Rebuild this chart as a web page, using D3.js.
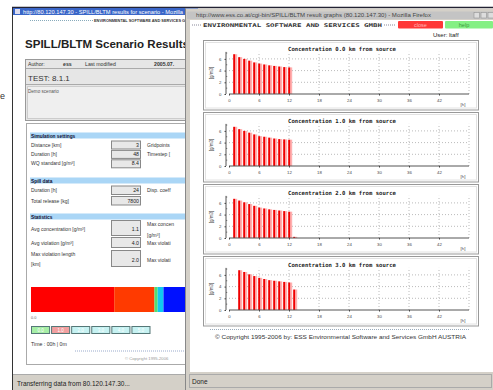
<!DOCTYPE html>
<html><head><meta charset="utf-8">
<script src="https://cdn.jsdelivr.net/npm/d3@7"></script>
<style>body{margin:0;background:#fff;overflow:hidden}svg{display:block;font-family:"Liberation Sans",Arial,sans-serif}</style>
</head><body><svg id="c" width="493" height="390"></svg>
<script>
// ---------- data ----------
const panelDistances = ["0.0", "1.0", "2.0", "3.0"];
const panelStartHour = [1, 1, 1, 2];
const conc00 = [6.8, 6.3, 6.0, 5.7, 5.4, 5.2, 5.05, 4.9, 4.8, 4.7, 4.6, 4.55];
const conc10 = [6.7, 6.3, 6.0, 5.7, 5.4, 5.1, 5.0, 4.85, 4.7, 4.6, 4.55, 4.5];
const conc20 = [6.7, 6.4, 6.1, 5.8, 5.5, 5.2, 5.05, 4.9, 4.8, 4.7, 4.6, 4.5, 0.2];
const conc30 = [6.8, 6.5, 6.1, 5.8, 5.5, 5.3, 5.1, 5.0, 4.9, 4.8, 4.7, 3.5];
const xTicks = [0, 6, 12, 18, 24, 30, 36, 42];
const yTicks = [0, 2, 4, 6];
const xMax = 48, yMax = 7.2;

const simLabels = ["Distance [km]", "Duration [h]", "WQ standard [g/m³]"];
const simValues = ["3", "48", "8.4"];
const simRight = ["Gridpoints", "Timestep [", ""];
const spillLabels = ["Duration [h]", "Total release [kg]"];
const spillValues = ["24", "7800"];
const spillRight = ["Disp. coeff", ""];
const statValues = ["1.1", "4.0", "2.0"];
const riverKm = 3;
const classKm = [0, 1.57, 2.33, 2.39, 2.5, 3.0];
const classNames = ["above", "high", "mid", "low", "below"];
const timeButtons = ["0.0", "1.0", "2.0", "3.0", "4.0", "5.0"];

const svg = d3.select("#c");
function T(g, x, y, s, size, o = {}) {
  const t = g.append("text").attr("x", x).attr("y", y).text(s)
    .attr("font-size", size).attr("fill", o.fill || "#222");
  if (o.bold) t.attr("font-weight", "bold");
  if (o.anchor) t.attr("text-anchor", o.anchor);
  if (o.family) t.attr("font-family", o.family);
  if (o.len) t.attr("textLength", o.len).attr("lengthAdjust", "spacingAndGlyphs");
  return t;
}

// ---------- background letter ----------
T(svg, 0, 99, "e", 9, {fill: "#333"});

// ---------- LEFT WINDOW ----------
const L = svg.append("g");
L.append("rect").attr("x", 12).attr("y", 7).attr("width", 190).attr("height", 383).attr("fill", "#fff");
L.append("line").attr("x1", 12.5).attr("x2", 12.5).attr("y1", 7).attr("y2", 390).attr("stroke", "#333");
L.append("line").attr("x1", 12).attr("x2", 493).attr("y1", 7.5).attr("y2", 7.5).attr("stroke", "#223").attr("stroke-width", 1.5);
L.append("rect").attr("x", 13).attr("y", 8).attr("width", 185).attr("height", 7).attr("fill", "#3a66c8");
L.append("rect").attr("x", 15).attr("y", 9).attr("width", 5).attr("height", 5).attr("fill", "#dde");
T(L, 23, 13.5, "http://80.120.147.30 - SPILL/BLTM results for scenario - Mozilla", 4.5, {fill: "#fff", len: 160});
L.append("line").attr("x1", 30).attr("x2", 93).attr("y1", 20.5).attr("y2", 20.5).attr("stroke", "#8ab").attr("stroke-dasharray", "1,1");
T(L, 94, 22, "ENVIRONMENTAL SOFTWARE AND SERVICES GMBH", 3.6, {bold: true, fill: "#333", len: 100});
T(L, 25, 47.5, "SPILL/BLTM Scenario Results", 11.5, {bold: true, fill: "#222", len: 164});

// info box
L.append("rect").attr("x", 25.5).attr("y", 59.5).attr("width", 170).attr("height", 61).attr("fill", "#e6e6e6").attr("stroke", "#999");
L.append("line").attr("x1", 26).attr("x2", 196).attr("y1", 68.5).attr("y2", 68.5).attr("stroke", "#aaa");
L.append("line").attr("x1", 26).attr("x2", 196).attr("y1", 84.5).attr("y2", 84.5).attr("stroke", "#aaa");
L.append("rect").attr("x", 27.5).attr("y", 86.5).attr("width", 168).attr("height", 32).attr("fill", "#efefef").attr("stroke", "#ccc");
T(L, 28, 66, "Author:", 5.2, {fill: "#333"});
T(L, 63, 66, "ess", 5.2, {fill: "#333", bold: true});
T(L, 85, 66, "Last modified", 5.2, {fill: "#333"});
T(L, 154, 66, "2005.07.", 5.2, {fill: "#333", bold: true});
T(L, 28, 81, "TEST:  8.1.1", 8, {fill: "#333"});
T(L, 28, 93, "Demo scenario", 4.6, {fill: "#555"});

// content box
L.append("rect").attr("x", 26.5).attr("y", 123.5).attr("width", 170).attr("height", 241).attr("fill", "#fff").attr("stroke", "#aaa");

function header(y, s) {
  L.append("rect").attr("x", 30).attr("y", y).attr("width", 165).attr("height", 6).attr("fill", "#aad6f6");
  T(L, 31, y + 5, s, 4.8, {bold: true, fill: "#113"});
}
function valBox(y, h, v, vy) {
  L.append("rect").attr("x", 111.5).attr("y", y + 0.5).attr("width", 29).attr("height", h).attr("fill", "#e8e8e8").attr("stroke", "#888");
  T(L, 139, vy, v, 5.2, {anchor: "end", fill: "#222"});
}
header(132.5, "Simulation settings");
simLabels.forEach((s, i) => {
  const by = 146.5 + i * 9.4;
  valBox(by - 6, 8, simValues[i], by);
  T(L, 31, by, s, 5, {fill: "#333"});
  if (simRight[i]) T(L, 147, by, simRight[i], 5, {fill: "#333"});
});
header(177.5, "Spill data");
spillLabels.forEach((s, i) => {
  const by = 192 + i * 10.5;
  valBox(by - 6.5, 8.5, spillValues[i], by);
  T(L, 31, by, s, 5, {fill: "#333"});
  if (spillRight[i]) T(L, 147, by, spillRight[i], 5, {fill: "#333"});
});
header(213.5, "Statistics");
valBox(220, 15, statValues[0], 230.5);
T(L, 31, 230.5, "Avg concentration [g/m³]", 5, {fill: "#333"});
T(L, 147, 226, "Max concen", 5, {fill: "#333"});
T(L, 147, 237, "[g/m³]", 5, {fill: "#333"});
valBox(237, 10, statValues[1], 245);
T(L, 31, 245, "Avg violation [g/m³]", 5, {fill: "#333"});
T(L, 147, 245, "Max violati", 5, {fill: "#333"});
valBox(250, 16, statValues[2], 262);
T(L, 31, 255.5, "Max violation length", 5, {fill: "#333"});
T(L, 31, 266, "[km]", 5, {fill: "#333"});
T(L, 147, 262, "Max violati", 5, {fill: "#333"});

// river colour bar
const kx = d3.scaleLinear().domain([0, riverKm]).range([31, 190]);
const classColor = d3.scaleOrdinal().domain(classNames).range(["#ff0000", "#ff3a00", "#50e070", "#10c8f0", "#0010ff"]);
L.selectAll("rect.seg").data(classNames).join("rect").attr("class", "seg")
  .attr("x", (d, i) => kx(classKm[i])).attr("width", (d, i) => kx(classKm[i + 1]) - kx(classKm[i]))
  .attr("y", 287).attr("height", 25).attr("fill", d => classColor(d));
T(L, 31, 318.5, "0.0", 3.8, {fill: "#666"});
const btnColors = ["#a6eea6", "#f2a0a0", "#c6f2f2", "#c6f2f2", "#c6f2f2", "#c6f2f2"];
const bx = d3.scaleBand().domain(timeButtons).range([31.5, 150]).paddingInner(0.1);
timeButtons.forEach((b, i) => {
  L.append("rect").attr("x", bx(b)).attr("y", 326.5).attr("width", bx.bandwidth()).attr("height", 7)
    .attr("fill", btnColors[i]).attr("stroke", "#577");
  T(L, bx(b) + bx.bandwidth() / 2, 332, b, 4.5, {anchor: "middle", fill: "#fff"});
});
T(L, 31, 345.5, "Time : 00h | 0m", 5.2, {fill: "#333"});
L.append("line").attr("x1", 75).attr("x2", 192).attr("y1", 351).attr("y2", 351).attr("stroke", "#9ac").attr("stroke-dasharray", "1,1");
T(L, 125, 360, "© Copyright 1995-2006", 4.2, {fill: "#999"});
L.append("rect").attr("x", 13).attr("y", 374).attr("width", 180).attr("height", 16).attr("fill", "#d4d0c8");
L.append("line").attr("x1", 13).attr("x2", 193).attr("y1", 374.5).attr("y2", 374.5).attr("stroke", "#aaa");
T(L, 17, 386, "Transferring data from 80.120.147.30...", 6.5, {fill: "#222"});

// ---------- RIGHT WINDOW ----------
const R = svg.append("g");
R.append("rect").attr("x", 185).attr("y", 8.5).attr("width", 308).attr("height", 382).attr("fill", "#d4d0c8");
R.append("line").attr("x1", 185.5).attr("x2", 185.5).attr("y1", 8).attr("y2", 390).attr("stroke", "#888");
R.append("rect").attr("x", 187).attr("y", 11.5).attr("width", 306).attr("height", 7.5).attr("fill", "#c4c4c4");
T(R, 196, 17.3, "http://www.ess.co.at/cgi-bin/SPILL/BLTM result graphs (80.120.147.30) - Mozilla Firefox", 4.5, {fill: "#444", len: 235});
[474, 481, 488].forEach(x => R.append("rect").attr("x", x).attr("y", 12.5).attr("width", 5.5).attr("height", 5.5).attr("fill", "#ddd").attr("stroke", "#888").attr("stroke-width", 0.5));
R.append("rect").attr("x", 190).attr("y", 20).attr("width", 303).attr("height", 352).attr("fill", "#fff");
R.append("line").attr("x1", 192).attr("x2", 201).attr("y1", 25).attr("y2", 25).attr("stroke", "#889").attr("stroke-dasharray", "1,1");
T(R, 203, 27, "ENVIRONMENTAL SOFTWARE AND SERVICES GMBH", 5, {bold: true, fill: "#333", len: 179, family: "DejaVu Sans Mono"});
R.append("line").attr("x1", 384).attr("x2", 396).attr("y1", 25).attr("y2", 25).attr("stroke", "#889").attr("stroke-dasharray", "1,1");
R.append("rect").attr("x", 398).attr("y", 21).attr("width", 45).attr("height", 7.5).attr("fill", "#ff3838").attr("rx", 1);
T(R, 420.5, 27, "close", 5.5, {anchor: "middle", fill: "#ffb8b8"});
R.append("rect").attr("x", 445).attr("y", 21).attr("width", 48).attr("height", 7.5).attr("fill", "#84f084").attr("rx", 1);
T(R, 464, 27, "help", 5.5, {anchor: "middle", fill: "#3a9a3a"});
T(R, 433, 37, "User: ltaff", 6, {fill: "#222"});

// panels
const panelData = [conc00, conc10, conc20, conc30];
const x = d3.scaleLinear().domain([0, xMax]).range([229, 469]);
panelData.forEach((vals, p) => {
  const top = 40 + p * 72;
  const g = R.append("g");
  g.append("rect").attr("x", 203.5).attr("y", top + 0.5).attr("width", 275).attr("height", 69.5)
    .attr("fill", "#fff").attr("stroke", "#999");
  g.append("rect").attr("x", 205.5).attr("y", top + 2.5).attr("width", 271).attr("height", 65.5)
    .attr("fill", "none").attr("stroke", "#e2e2e2");
  const zero = top + 54;
  const y = d3.scaleLinear().domain([0, yMax]).range([zero, zero - yMax * 5.85]);
  T(g, 342, top + 10.5, `Concentration ${panelDistances[p]} km from source`, 5.6,
    {anchor: "middle", bold: true, family: "DejaVu Sans Mono", fill: "#222"});
  // grid
  g.selectAll("line.gy").data(yTicks.slice(1)).join("line")
    .attr("x1", x(0)).attr("x2", x(xMax)).attr("y1", d => y(d)).attr("y2", d => y(d))
    .attr("stroke", "#bbb").attr("stroke-dasharray", "1,2");
  g.selectAll("line.gx").data(xTicks.slice(1).concat([xMax])).join("line")
    .attr("x1", d => x(d)).attr("x2", d => x(d)).attr("y1", y(0)).attr("y2", y(yMax))
    .attr("stroke", "#bbb").attr("stroke-dasharray", "1,2");
  // bars
  const bars = vals.map((v, i) => ({h: panelStartHour[p] + i, v}));
  g.selectAll("rect.pk").data(bars).join("rect")
    .attr("x", d => x(d.h) + 1).attr("width", 2.2)
    .attr("y", d => y(d.v)).attr("height", d => y(0) - y(d.v)).attr("fill", "#ffb0b0");
  g.selectAll("rect.rd").data(bars).join("rect")
    .attr("x", d => x(d.h) - 0.8).attr("width", 1.9)
    .attr("y", d => y(d.v)).attr("height", d => y(0) - y(d.v)).attr("fill", "#f00000");
  // axes
  const ax = g.append("g").attr("transform", `translate(0,${y(0)})`)
    .call(d3.axisBottom(x).tickValues(xTicks).tickSize(1.5).tickPadding(3.5));
  ax.select(".domain").attr("stroke", "#555").attr("d", `M${x(0)},0H${x(xMax)}`);
  ax.selectAll("text").attr("font-size", 4.3).attr("fill", "#444");
  ax.selectAll("line").attr("stroke", "#444");
  const ay = g.append("g").attr("transform", `translate(${x(0) - 3},0)`)
    .call(d3.axisLeft(y).tickValues(yTicks).tickSize(1.5).tickPadding(3));
  ay.select(".domain").attr("stroke", "#555").attr("d", `M0,${y(0)}V${y(yMax)}`);
  ay.selectAll("text").attr("font-size", 4.3).attr("fill", "#444");
  ay.selectAll("line").attr("stroke", "#444");
  g.append("g").attr("transform", `translate(${x(0) - 3},0)`).selectAll("line")
    .data(d3.range(1, yMax, 2)).join("line").attr("x1", 0).attr("x2", 1.2)
    .attr("y1", d => y(d)).attr("y2", d => y(d)).attr("stroke", "#666");
  T(g, 0, 0, "[g/m3]", 4.5, {anchor: "middle", fill: "#444"})
    .attr("transform", `translate(213,${(y(0) + y(yMax)) / 2}) rotate(-90)`);
  T(g, 463, top + 66, "[h]", 4.3, {anchor: "middle", fill: "#444"});
});

R.append("line").attr("x1", 210).attr("x2", 470).attr("y1", 329.5).attr("y2", 329.5)
  .attr("stroke", "#9ab").attr("stroke-dasharray", "1,1");
T(R, 215, 339, "© Copyright 1995-2006 by:   ESS   Environmental Software and Services GmbH AUSTRIA", 5, {fill: "#333", len: 251});

R.append("rect").attr("x", 186).attr("y", 372).attr("width", 307).attr("height", 18).attr("fill", "#d4d0c8");
R.append("rect").attr("x", 189.5).attr("y", 374.5).attr("width", 302).attr("height", 13).attr("fill", "none").attr("stroke", "#aaa");
T(R, 192, 383.5, "Done", 6.5, {fill: "#222"});
</script></body></html>
